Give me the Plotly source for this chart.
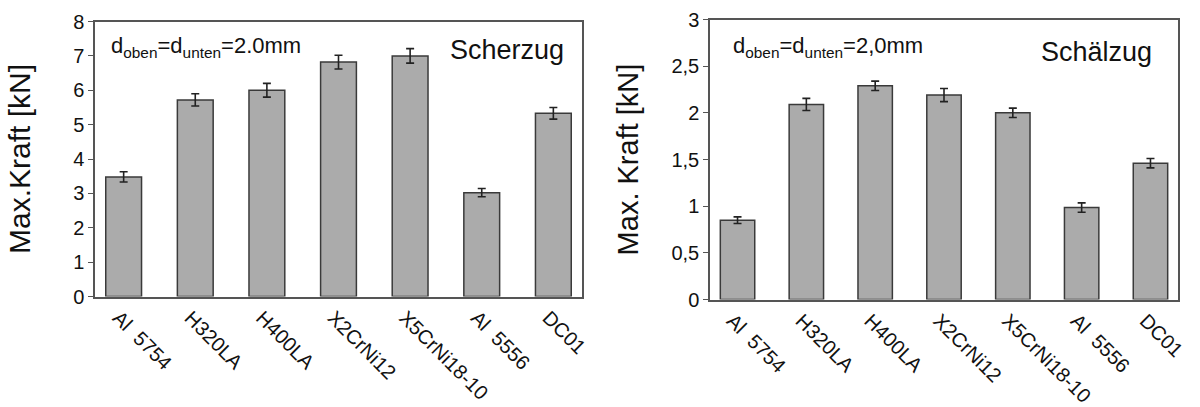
import plotly.graph_objects as go

categories = ["Al\u00a0\u00a05754", "H320LA", "H400LA", "X2CrNi12", "X5CrNi18-10", "Al\u00a0\u00a05556", "DC01"]

scherzug_values = [3.48, 5.72, 6.0, 6.82, 7.0, 3.02, 5.33]
scherzug_errors = [0.15, 0.18, 0.2, 0.2, 0.21, 0.12, 0.17]

schaelzug_values = [0.85, 2.09, 2.29, 2.19, 2.0, 0.985, 1.46]
schaelzug_errors = [0.035, 0.065, 0.05, 0.07, 0.05, 0.05, 0.05]

left_yticks = [0, 1, 2, 3, 4, 5, 6, 7, 8]
right_yticks = [0, 0.5, 1, 1.5, 2, 2.5, 3]
right_yticklabels = ["0", "0,5", "1", "1,5", "2", "2,5", "3"]

FONT = "Liberation Sans, Arial, sans-serif"
BAR_FILL = "#ababab"
BAR_LINE = "#3a3a3a"
FRAME = "#555555"
TXT = "#111111"

fig = go.Figure()

fig.add_trace(go.Bar(
    x=categories, y=scherzug_values, width=0.5,
    marker=dict(color=BAR_FILL, line=dict(color=BAR_LINE, width=1.5)),
    error_y=dict(type="data", array=scherzug_errors, color="#222222", thickness=1.6, width=4),
    xaxis="x", yaxis="y", showlegend=False,
))
fig.add_trace(go.Bar(
    x=categories, y=schaelzug_values, width=0.5,
    marker=dict(color=BAR_FILL, line=dict(color=BAR_LINE, width=1.5)),
    error_y=dict(type="data", array=schaelzug_errors, color="#222222", thickness=1.6, width=4),
    xaxis="x2", yaxis="y2", showlegend=False,
))

xcommon = dict(
    showline=True, linecolor=FRAME, linewidth=1.5, mirror=True,
    ticks="", tickangle=45, range=[-0.4, 6.4], automargin=False,
    ticklabelshift=-5,
    tickfont=dict(family=FONT, size=20, color=TXT),
    showgrid=False, zeroline=False,
)
ycommon = dict(
    showline=True, linecolor=FRAME, linewidth=1.5, mirror=True,
    ticks="outside", ticklen=5, tickcolor=FRAME, tickwidth=1.2, automargin=False,
    tickfont=dict(family=FONT, size=20, color=TXT),
    showgrid=False, zeroline=False,
)

fig.update_layout(
    width=1200, height=407,
    margin=dict(l=0, r=0, t=0, b=0, autoexpand=False),
    paper_bgcolor="white", plot_bgcolor="white",
    xaxis=dict(domain=[95 / 1200, 582 / 1200], anchor="y", **xcommon),
    yaxis=dict(domain=[1 - 296.5 / 407, 1 - 21.5 / 407], anchor="x", range=[0, 8],
               tickvals=left_yticks,
               title=dict(text="Max.Kraft [kN]", font=dict(family=FONT, size=30, color=TXT), standoff=34),
               **ycommon),
    xaxis2=dict(domain=[710 / 1200, 1178 / 1200], anchor="y2", **xcommon),
    yaxis2=dict(domain=[1 - 299.5 / 407, 1 - 19.5 / 407], anchor="x2", range=[0, 3],
                tickvals=right_yticks, ticktext=right_yticklabels,
                title=dict(text="Max. Kraft [kN]", font=dict(family=FONT, size=29, color=TXT), standoff=24),
                **ycommon),
    annotations=[
        dict(text="d<sub>oben</sub>=d<sub>unten</sub>=2.0mm", xref="paper", yref="paper",
             x=109 / 1200, y=1 - 47 / 407, xanchor="left", yanchor="middle", showarrow=False,
             font=dict(family=FONT, size=22, color=TXT)),
        dict(text="Scherzug", xref="paper", yref="paper",
             x=566 / 1200, y=1 - 50 / 407, xanchor="right", yanchor="middle", showarrow=False,
             font=dict(family=FONT, size=27, color=TXT)),
        dict(text="d<sub>oben</sub>=d<sub>unten</sub>=2,0mm", xref="paper", yref="paper",
             x=731 / 1200, y=1 - 47 / 407, xanchor="left", yanchor="middle", showarrow=False,
             font=dict(family=FONT, size=22, color=TXT)),
        dict(text="Schälzug", xref="paper", yref="paper",
             x=1154 / 1200, y=1 - 52 / 407, xanchor="right", yanchor="middle", showarrow=False,
             font=dict(family=FONT, size=27, color=TXT)),
    ],
)

fig.write_html("out.html", config={"displayModeBar": False},
               post_script="document.body.style.margin='0';document.body.style.overflow='hidden';")
